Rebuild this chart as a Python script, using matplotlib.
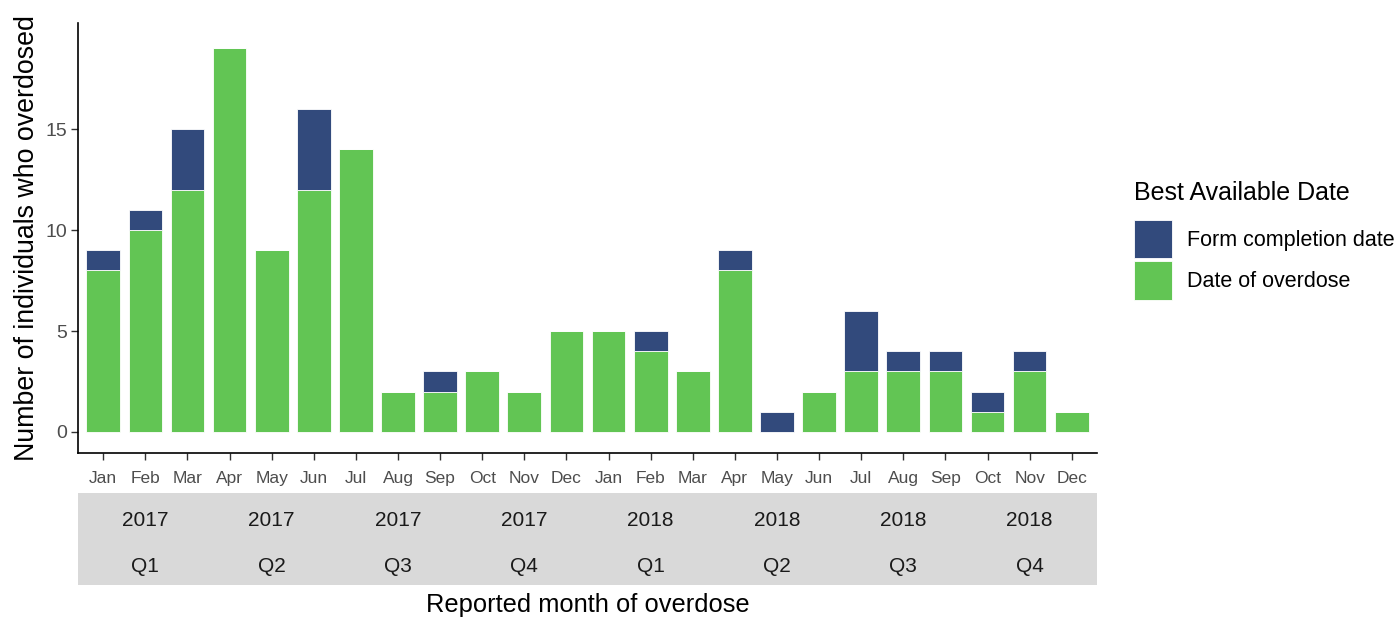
import matplotlib
matplotlib.use("Agg")
import matplotlib.pyplot as plt
import numpy as np

plt.rcParams['font.family'] = ['Liberation Sans', 'DejaVu Sans']

months = ["Jan", "Feb", "Mar", "Apr", "May", "Jun", "Jul", "Aug", "Sep", "Oct", "Nov", "Dec"] * 2
overdose = [8, 10, 12, 19, 9, 12, 14, 2, 2, 3, 2, 5,
            5, 4, 3, 8, 0, 2, 3, 3, 3, 1, 3, 1]
form = [1, 1, 3, 0, 0, 4, 0, 0, 1, 0, 0, 0,
        0, 1, 0, 1, 1, 0, 3, 1, 1, 1, 1, 0]
years = ["2017"] * 4 + ["2018"] * 4
quarters = ["Q1", "Q2", "Q3", "Q4"] * 2
y_ticks = [0, 5, 10, 15]

C_FORM = "#324A7C"
C_OD = "#62C554"
TICK_GRAY = "#4D4D4D"

W, H = 1397, 619
fig = plt.figure(figsize=(W / 100, H / 100), dpi=100)

L, R, T, B = 78, 1097, 23, 453
ax = fig.add_axes([L / W, 1 - B / H, (R - L) / W, (B - T) / H])

x = np.arange(1, len(months) + 1)
ax.bar(x, overdose, width=0.8, color=C_OD, edgecolor="white", linewidth=0.6,
       label="Date of overdose")
ax.bar(x, form, bottom=overdose, width=0.8, color=C_FORM, edgecolor="white",
       linewidth=0.6, label="Form completion date")

ax.set_xlim(0.4, len(months) + 0.6)
ax.set_ylim(-1.04, 20.25)
ax.set_xticks(x)
ax.set_xticklabels(months, color=TICK_GRAY, fontsize=12.5)
ax.set_yticks(y_ticks)
ax.set_yticklabels([str(v) for v in y_ticks], color=TICK_GRAY, fontsize=14)
ax.tick_params(axis="both", length=5, width=1, color="#333333")
ax.tick_params(axis="x", pad=8)
ax.tick_params(axis="y", pad=3)
for s in ["top", "right"]:
    ax.spines[s].set_visible(False)
for s in ["left", "bottom"]:
    ax.spines[s].set_linewidth(1.2)
    ax.spines[s].set_color("black")

ax.set_ylabel("Number of individuals who overdosed", fontsize=19.3, color="black", labelpad=4)

# strip with year / quarter
SB, ST = 585, 493
sax = fig.add_axes([L / W, 1 - SB / H, (R - L) / W, (SB - ST) / H], sharex=ax)
sax.set_facecolor("#D9D9D9")
for s in sax.spines.values():
    s.set_visible(False)
sax.tick_params(left=False, bottom=False, labelleft=False, labelbottom=False)
sax.set_ylim(0, 1)
for i, (yr, q) in enumerate(zip(years, quarters)):
    cx = 3 * i + 2
    sax.text(cx, 0.7, yr, ha="center", va="center", fontsize=15, color="#1A1A1A")
    sax.text(cx, 0.2, q, ha="center", va="center", fontsize=15, color="#1A1A1A")

fig.text((L + R) / 2 / W, 1 - 605 / H, "Reported month of overdose",
         ha="center", va="center", fontsize=18.4, color="black")

# legend
fig.text(1134 / W, 1 - 193 / H, "Best Available Date", ha="left", va="center",
         fontsize=18, color="black")
handles, labels = ax.get_legend_handles_labels()
leg = fig.legend(handles[::-1], labels[::-1],
                 loc="upper left", bbox_to_anchor=(1134 / W, 1 - 220 / H),
                 frameon=False, fontsize=15.5,
                 handlelength=1.75, handleheight=2.35, handletextpad=0.7,
                 labelspacing=0.15, borderaxespad=0, borderpad=0)

fig.savefig("out.png", dpi=100)
